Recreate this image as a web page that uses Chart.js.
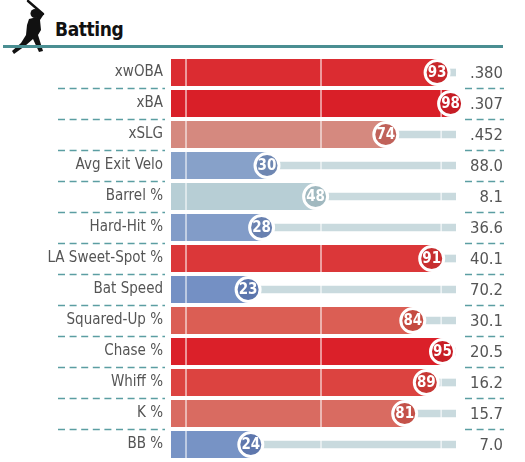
<!DOCTYPE html>
<html lang="en">
<head>
    <meta charset="UTF-8">
    <title>Batting</title>
    <script src="https://cdn.jsdelivr.net/npm/chart.js"></script>
    <style>
        body {
            margin: 0;
            background: #ffffff;
        }

        /* Header with batter icon */
        .wrap {
            position: relative;
            width: 525px;
            height: 462px;
        }

        .header-icon {
            position: absolute;
            left: 6px;
            top: 0;
        }

        .header-title {
            position: absolute;
            left: 55px;
            top: 18px;
            font-family: "Liberation Sans Narrow", "DejaVu Sans Condensed", sans-serif;
            font-weight: bold;
            font-size: 19px;
            letter-spacing: -0.4px;
            color: #111;
        }

        .header-rule {
            position: absolute;
            left: 3px;
            top: 45px;
            width: 500px;
            height: 2.5px;
            background-color: #4a8e92;
        }

        canvas {
            position: absolute;
            left: 0;
            top: 0;
        }
    </style>
</head>
<body>
    <div class="wrap">
        <svg class="header-icon" width="50" height="56" viewBox="0 0 50 56">
            <line x1="22" y1="1" x2="37" y2="14" stroke="#111" stroke-width="2.4" stroke-linecap="round"/>
            <circle cx="29" cy="13.5" r="4.5" fill="#111"/>
            <path d="M33,11 L38,14 L34,20 L35,30 L32,35 L37,51 L33,52 L27,39 L19,46 L8,54 L6,51 L15,43 L20,35 L21,25 L23,19 L31,17 Z" fill="#111"/>
        </svg>
        <div class="header-title">Batting</div>
        <div class="header-rule"></div>
        <canvas id="battingChart" width="525" height="462"></canvas>
    </div>

    <script>
        // Data
        const metrics = ['xwOBA', 'xBA', 'xSLG', 'Avg Exit Velo', 'Barrel %', 'Hard-Hit %',
            'LA Sweet-Spot %', 'Bat Speed', 'Squared-Up %', 'Chase %', 'Whiff %', 'K %', 'BB %'];
        const percentiles = [93, 98, 74, 30, 48, 28, 91, 23, 84, 95, 89, 81, 24];
        const statValues = ['.380', '.307', '.452', '88.0', '8.1', '36.6', '40.1',
            '70.2', '30.1', '20.5', '16.2', '15.7', '7.0'];
        const guideLines = [0, 50, 94.5];

        const X_MIN = -5.56;
        const X_MAX = 100;

        // percentile colour ramps (blue -> grey-teal -> red)
        const barStops = [[0, '#325aa8'], [25, '#7a95c6'], [50, '#bcd3d6'], [74, '#d5897f'],
            [85, '#dc5a50'], [95, '#db2029'], [100, '#d71f27']];
        const dotStops = [[0, '#2b4f9c'], [25, '#6079ae'], [50, '#a7bfc2'], [74, '#c0625a'],
            [85, '#c6493f'], [95, '#c81e26'], [100, '#c41c24']];

        function hexToRgb(h) {
            return [1, 3, 5].map(i => parseInt(h.slice(i, i + 2), 16));
        }

        function ramp(stops, v) {
            for (let i = 0; i < stops.length - 1; i++) {
                const [v0, c0] = stops[i];
                const [v1, c1] = stops[i + 1];
                if (v >= v0 && v <= v1) {
                    const t = (v - v0) / (v1 - v0);
                    const a = hexToRgb(c0), b = hexToRgb(c1);
                    const rgb = a.map((c, k) => Math.round(c + (b[k] - c) * t));
                    return `rgb(${rgb.join(',')})`;
                }
            }
            return stops[stops.length - 1][1];
        }

        const condensed = '"Liberation Sans Narrow", "DejaVu Sans Condensed", sans-serif';

        // white guide lines over bars and tracks, under the circles
        const guidePlugin = {
            id: 'guides',
            afterDatasetDraw(chart, args) {
                if (args.index !== 1) return;
                const { ctx, chartArea, scales } = chart;
                ctx.save();
                ctx.strokeStyle = 'rgba(255,255,255,0.7)';
                ctx.lineWidth = 1.5;
                guideLines.forEach(g => {
                    const x = scales.x.getPixelForValue(g);
                    ctx.beginPath();
                    ctx.moveTo(x, chartArea.top);
                    ctx.lineTo(x, chartArea.bottom);
                    ctx.stroke();
                });
                ctx.restore();
            }
        };

        // dashed row separators, circle numbers and stat values
        const textPlugin = {
            id: 'rowText',
            afterDatasetsDraw(chart) {
                const { ctx, scales } = chart;
                const y = scales.y;
                ctx.save();

                ctx.strokeStyle = '#5b9ea2';
                ctx.lineWidth = 1.5;
                ctx.setLineDash([7, 4.6]);
                for (let i = 1; i < metrics.length; i++) {
                    const yy = Math.round((y.getPixelForValue(i - 1) + y.getPixelForValue(i)) / 2) + 0.5;
                    ctx.beginPath();
                    ctx.moveTo(58, yy);
                    ctx.lineTo(165, yy);
                    ctx.moveTo(465, yy);
                    ctx.lineTo(504, yy);
                    ctx.stroke();
                }
                ctx.setLineDash([]);

                const pts = chart.getDatasetMeta(2).data;
                ctx.fillStyle = '#ffffff';
                ctx.font = 'bold 15px ' + condensed;
                ctx.textAlign = 'center';
                ctx.textBaseline = 'middle';
                pts.forEach((p, i) => {
                    ctx.fillText(String(percentiles[i]), p.x, p.y + 1);
                });

                ctx.fillStyle = '#555555';
                ctx.font = '16.5px ' + condensed;
                ctx.textAlign = 'right';
                statValues.forEach((s, i) => {
                    ctx.fillText(s, 503, y.getPixelForValue(i) + 1);
                });
                ctx.restore();
            }
        };

        const ctx = document.getElementById('battingChart').getContext('2d');
        new Chart(ctx, {
            type: 'bar',
            data: {
                labels: metrics,
                datasets: [
                    {
                        // light track from the circle to 100
                        label: 'track',
                        data: percentiles.map(p => [p, X_MAX]),
                        backgroundColor: '#c9dade',
                        barThickness: 7,
                        grouped: false,
                        order: 3
                    },
                    {
                        label: 'percentile',
                        data: percentiles,
                        base: X_MIN,
                        backgroundColor: percentiles.map(p => ramp(barStops, p)),
                        categoryPercentage: 0.87,
                        barPercentage: 1.0,
                        grouped: false,
                        order: 2
                    },
                    {
                        type: 'line',
                        label: 'rank',
                        indexAxis: 'y',
                        data: percentiles,
                        showLine: false,
                        pointRadius: 12,
                        pointHoverRadius: 12,
                        pointBorderWidth: 3,
                        pointBorderColor: '#ffffff',
                        pointBackgroundColor: percentiles.map(p => ramp(dotStops, p)),
                        clip: false,
                        order: 1
                    }
                ]
            },
            options: {
                indexAxis: 'y',
                responsive: false,
                animation: false,
                layout: {
                    autoPadding: false,
                    padding: { left: 0, right: 69, top: 57, bottom: 2 }
                },
                plugins: {
                    legend: { display: false },
                    tooltip: { enabled: false }
                },
                scales: {
                    x: {
                        display: false,
                        min: X_MIN,
                        max: X_MAX
                    },
                    y: {
                        offset: true,
                        grid: { display: false, drawTicks: false },
                        border: { display: false },
                        ticks: {
                            padding: 8,
                            color: '#555555',
                            font: { family: condensed, size: 15 }
                        },
                        afterFit(scale) {
                            scale.width = 171;
                            scale.paddingTop = 0;
                            scale.paddingBottom = 0;
                        }
                    }
                }
            },
            plugins: [guidePlugin, textPlugin]
        });
    </script>
</body>
</html>
